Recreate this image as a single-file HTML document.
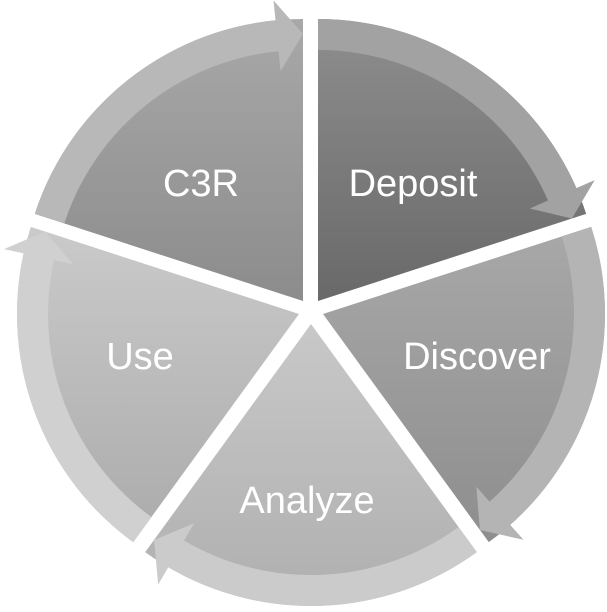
<!DOCTYPE html>
<html><head><meta charset="utf-8"><style>
html,body{margin:0;padding:0;background:#fff;}
svg{display:block;}
text{font-family:"Liberation Sans",sans-serif;fill:#fff;font-size:38px;text-anchor:middle;}
</style></head><body>
<svg id="s" width="607" height="612" viewBox="0 0 607 612" xmlns="http://www.w3.org/2000/svg">
<defs>
<linearGradient id="gDep" x1="0" y1="0" x2="0" y2="1"><stop offset="0" stop-color="#8e8e8e"/><stop offset="1" stop-color="#696969"/></linearGradient>
<linearGradient id="gC3R" x1="0" y1="0" x2="0" y2="1"><stop offset="0" stop-color="#a8a8a8"/><stop offset="1" stop-color="#8c8c8c"/></linearGradient>
<linearGradient id="gDis" x1="0" y1="0" x2="0" y2="1"><stop offset="0" stop-color="#a8a8a8"/><stop offset="1" stop-color="#8e8e8e"/></linearGradient>
<linearGradient id="gAna" x1="0" y1="0" x2="0" y2="1"><stop offset="0" stop-color="#c8c8c8"/><stop offset="1" stop-color="#afafaf"/></linearGradient>
<linearGradient id="gUse" x1="0" y1="0" x2="0" y2="1"><stop offset="0" stop-color="#cacaca"/><stop offset="1" stop-color="#ababab"/></linearGradient>
</defs>
<g id="g"></g>
<text x="201" y="196">C3R</text>
<text x="413" y="196">Deposit</text>
<text x="477" y="369">Discover</text>
<text x="307" y="513">Analyze</text>
<text x="140" y="369">Use</text>
</svg>
<script>
var segs=[
 {cx:318,cy:301,a0:-90,a1:-18,fill:"url(#gDep)",ring:"#a2a2a2"},
 {cx:323,cy:314,a0:-18,a1:54,fill:"url(#gDis)",ring:"#b4b4b4"},
 {cx:311,cy:324,a0:54,a1:126,fill:"url(#gAna)",ring:"#cbcbcb"},
 {cx:299,cy:314,a0:126,a1:198,fill:"url(#gUse)",ring:"#d0d0d0"},
 {cx:303,cy:301,a0:198,a1:270,fill:"url(#gC3R)",ring:"#b8b8b8"}
];
var R=282,ri=251,hi=231,ho=302,hr=267,da=5.6;
function p(s,r,a){a=a*Math.PI/180;return (s.cx+r*Math.cos(a)).toFixed(1)+","+(s.cy+r*Math.sin(a)).toFixed(1);}
var h="";
segs.forEach(function(s){
 h+='<path fill="'+s.fill+'" d="M'+s.cx+','+s.cy+' L'+p(s,R,s.a0)+' A'+R+','+R+' 0 0 1 '+p(s,R,s.a1)+' Z"/>';
 var ae=s.a1-da;
 h+='<path fill="'+s.ring+'" d="M'+p(s,ri,s.a0)+' L'+p(s,R,s.a0)+' A'+R+','+R+' 0 0 1 '+p(s,R,ae)+' L'+p(s,ho,ae)+' L'+p(s,hr,s.a1)+' L'+p(s,hi,ae)+' L'+p(s,ri,ae)+' A'+ri+','+ri+' 0 0 0 '+p(s,ri,s.a0)+' Z"/>';
});
document.getElementById("g").innerHTML=h;
</script>
</body></html>
